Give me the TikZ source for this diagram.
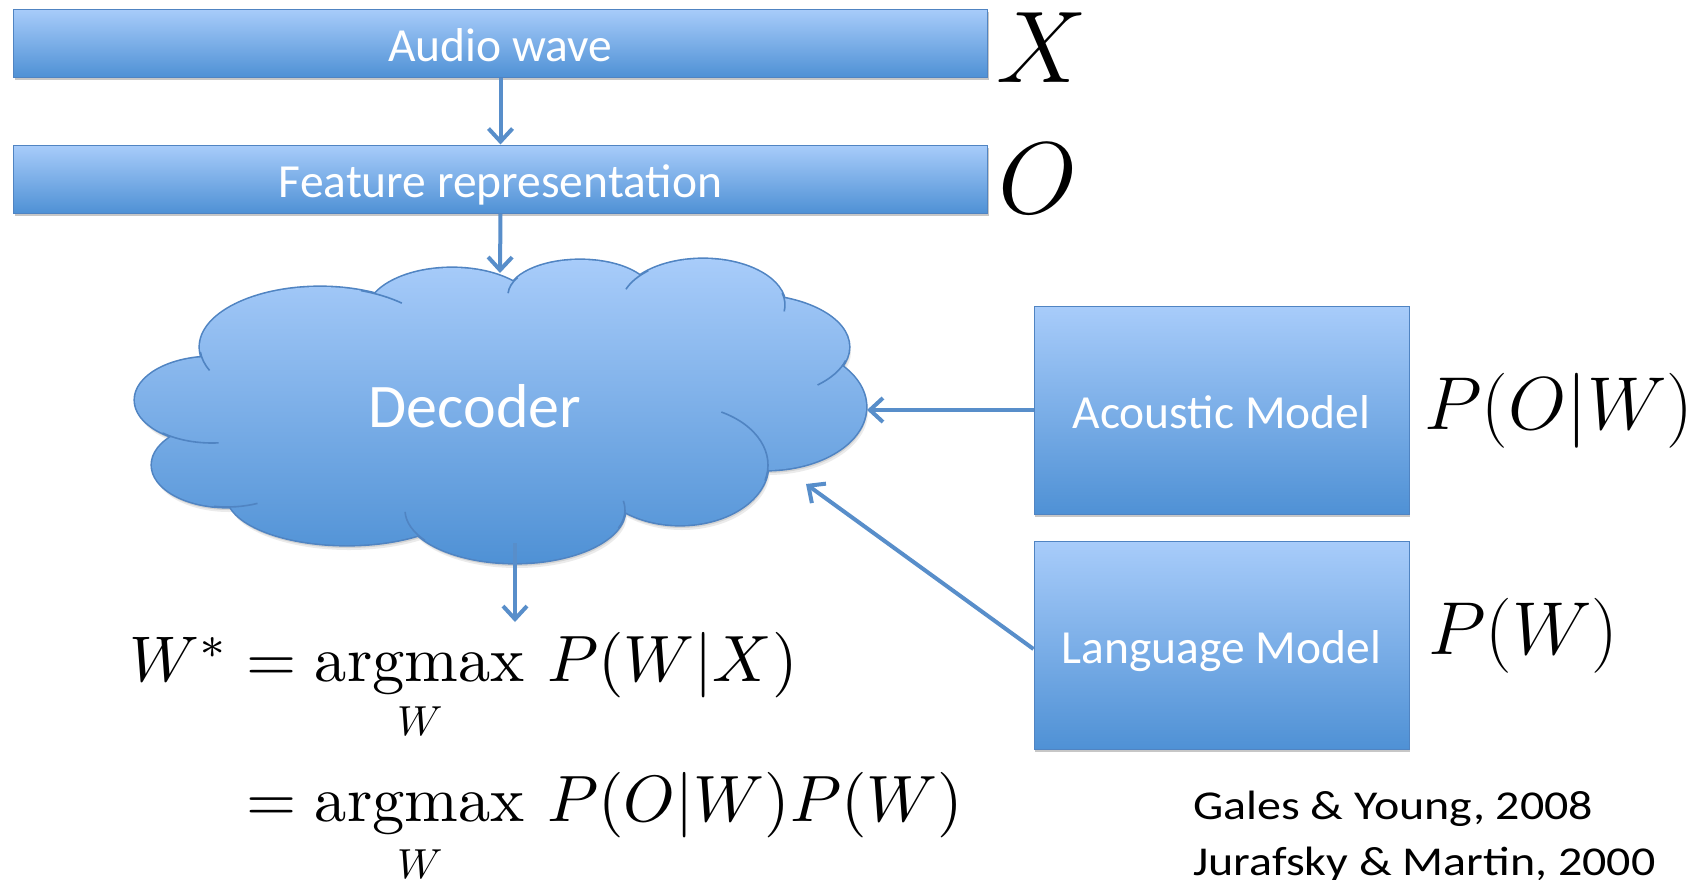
\RequirePackage{fix-cm}
\documentclass[tikz,border=0pt]{standalone}
\usepackage{amsmath}
\usepackage{graphicx}
\usepackage{fontspec}
\newfontfamily\calibri{Carlito}
\usetikzlibrary{arrows.meta,shadows}

\definecolor{shadetop}{RGB}{168,204,250}
\definecolor{shadebot}{RGB}{79,145,213}
\definecolor{edgeblue}{RGB}{80,132,194}
\definecolor{linkblue}{RGB}{88,142,202}

% lobes of the decoder cloud (centre, radii) in a y-down frame
\newcommand\cloudlobes{
  (212,400) ellipse [x radius=77,  y radius=43]
  (320,347) ellipse [x radius=120, y radius=60]
  (452,313) ellipse [x radius=85,  y radius=45]
  (580,295) ellipse [x radius=72,  y radius=35]
  (703,305) ellipse [x radius=82,  y radius=46]
  (750,347) ellipse [x radius=99,  y radius=52]
  (766,407) ellipse [x radius=100, y radius=63]
  (680,465) ellipse [x radius=88,  y radius=60]
  (515,510) ellipse [x radius=110, y radius=53]
  (347,495) ellipse [x radius=120, y radius=50]
  (227,465) ellipse [x radius=75,  y radius=42]
}
\newcommand\cloudcore{(480,410) ellipse [x radius=300, y radius=110]}
% one inner seam: centre, radii, start and end angle
\newcommand\seam[6]{%
  \draw[seamline, shift={(#1,#2)}] (#5:#3 and #4) arc[start angle=#5, end angle=#6, x radius=#3, y radius=#4];}
% wide set reference line
\newcommand\refline[1]{\scalebox{1.17}[1]{#1}}
% formula pieces set at 10pt and enlarged
\newcommand\bigmath[1]{\scalebox{6.45}{$#1$}}
\newcommand\rhsmath[1]{\scalebox{6.55}{$#1$}}
\newcommand\limmath[1]{\scalebox{4.2}{$#1$}}

\begin{document}
\begin{tikzpicture}[x=1pt, y=-1pt,
  bluebox/.style={draw=edgeblue, line width=1pt, top color=shadetop, bottom color=shadebot,
    inner sep=0pt, text=white, font=\calibri\fontsize{47.5}{50}\selectfont,
    text height=36pt, text depth=0pt,
    drop shadow={shadow xshift=1pt, shadow yshift=-3pt, opacity=0.22, fill=black}},
  conn/.style={draw=linkblue, line width=4pt, -{Straight Barb[length=13pt, width=24pt]}},
  seamline/.style={draw=edgeblue, line width=1.6pt},
  mathlabel/.style={anchor=base west, inner sep=0pt},
  formula/.style={anchor=base west, inner sep=0pt, font=\fontsize{10}{12}\selectfont},
  citation/.style={anchor=base west, inner sep=0pt, font=\calibri\fontsize{41}{44}\selectfont}
]
\useasboundingbox[fill=white] (0,0) rectangle (1703,879);

% ---- pipeline boxes ----
\node[bluebox, minimum width=974pt, minimum height=68pt] (audio) at (500.5,43) {Audio wave};
\node[bluebox, minimum width=974pt, minimum height=68pt] (feature) at (500.5,179) {Feature representation};
\node[bluebox, minimum width=375pt, minimum height=208pt] (acoustic) at (1221.5,410) {Acoustic Model};
\node[bluebox, minimum width=375pt, minimum height=208pt] (language) at (1221.5,645) {Language Model};

% ---- decoder cloud ----
\fill[black, opacity=0.10, shift={(1pt,-3pt)}] \cloudlobes;
\fill[black, opacity=0.08, shift={(2pt,-5pt)}] \cloudlobes;
\draw[edgeblue, line width=3.2pt] \cloudlobes;
\shade[top color=shadetop, bottom color=shadebot] \cloudlobes \cloudcore;
\seam{320}{347}{120}{60}{175}{157}
\seam{320}{347}{120}{60}{-70}{-47}
\seam{580}{295}{72}{35}{210}{183}
\seam{703}{305}{82}{46}{228}{200}
\seam{703}{305}{82}{46}{-15}{8}
\seam{750}{347}{99}{52}{15}{47}
\seam{680}{465}{88}{60}{15}{-62}
\seam{515}{510}{110}{53}{20}{-10}
\seam{515}{510}{110}{53}{145}{178}
\seam{227}{465}{75}{42}{100}{66}
\seam{212}{400}{77}{43}{130}{85}
\node[anchor=base, inner sep=0pt, text=white, font=\calibri\fontsize{62}{66}\selectfont] (decoder) at (475,427) {Decoder};

\coordinate (cloudN) at (500,273);
\coordinate (cloudE) at (867,410);
\coordinate (cloudSE) at (806,484);
\coordinate (cloudS) at (515,543);
\coordinate (resultN) at (515,622);

% ---- connectors ----
\draw[conn] (audio.south) -- (feature.north);
\draw[conn] (feature.south) -- (cloudN);
\draw[conn] (acoustic.west) -- (cloudE);
\draw[conn] ([yshift=-4pt]language.west) -- (cloudSE);
\draw[conn] (cloudS) -- (resultN);

% ---- symbols ----
\node[mathlabel, font=\fontsize{102}{110}\selectfont] (xsym) at (996,82) {$X$};
\node[mathlabel, font=\fontsize{102}{110}\selectfont] (osym) at (998,213) {$O$};
\node[mathlabel, font=\fontsize{75}{80}\selectfont] (pow) at (1424,429) {$P(O|W)$};
\node[mathlabel, font=\fontsize{75}{80}\selectfont] (pw) at (1428,654) {$P(W)$};

% ---- decision rule ----
\node[formula] (eq1lhs) at (129,681.5)   {\bigmath{W^*}};
\node[formula] (eq1rel) at (246.4,681.5) {\bigmath{=}};
\node[formula] (eq1op)  at (314.7,681.5) {\bigmath{\operatorname{argmax}}};
\node[formula] (eq1lim) at (397,735)     {\limmath{W}};
\node[formula] (eq1rhs) at (547,681.5)   {\rhsmath{P(W|X)}};

\node[formula] (eq2rel) at (246.4,821.7) {\bigmath{=}};
\node[formula] (eq2op)  at (314.7,821.7) {\bigmath{\operatorname{argmax}}};
\node[formula] (eq2lim) at (397,878.5)   {\limmath{W}};
\node[formula] (eq2rhs) at (547,821.7)   {\rhsmath{P(O|W)P(W)}};

% ---- references ----
\node[citation] (cite1) at (1193,819) {\refline{Gales \& Young, 2008}};
\node[citation] (cite2) at (1193,875) {\refline{Jurafsky \& Martin, 2000}};
\end{tikzpicture}
\end{document}
